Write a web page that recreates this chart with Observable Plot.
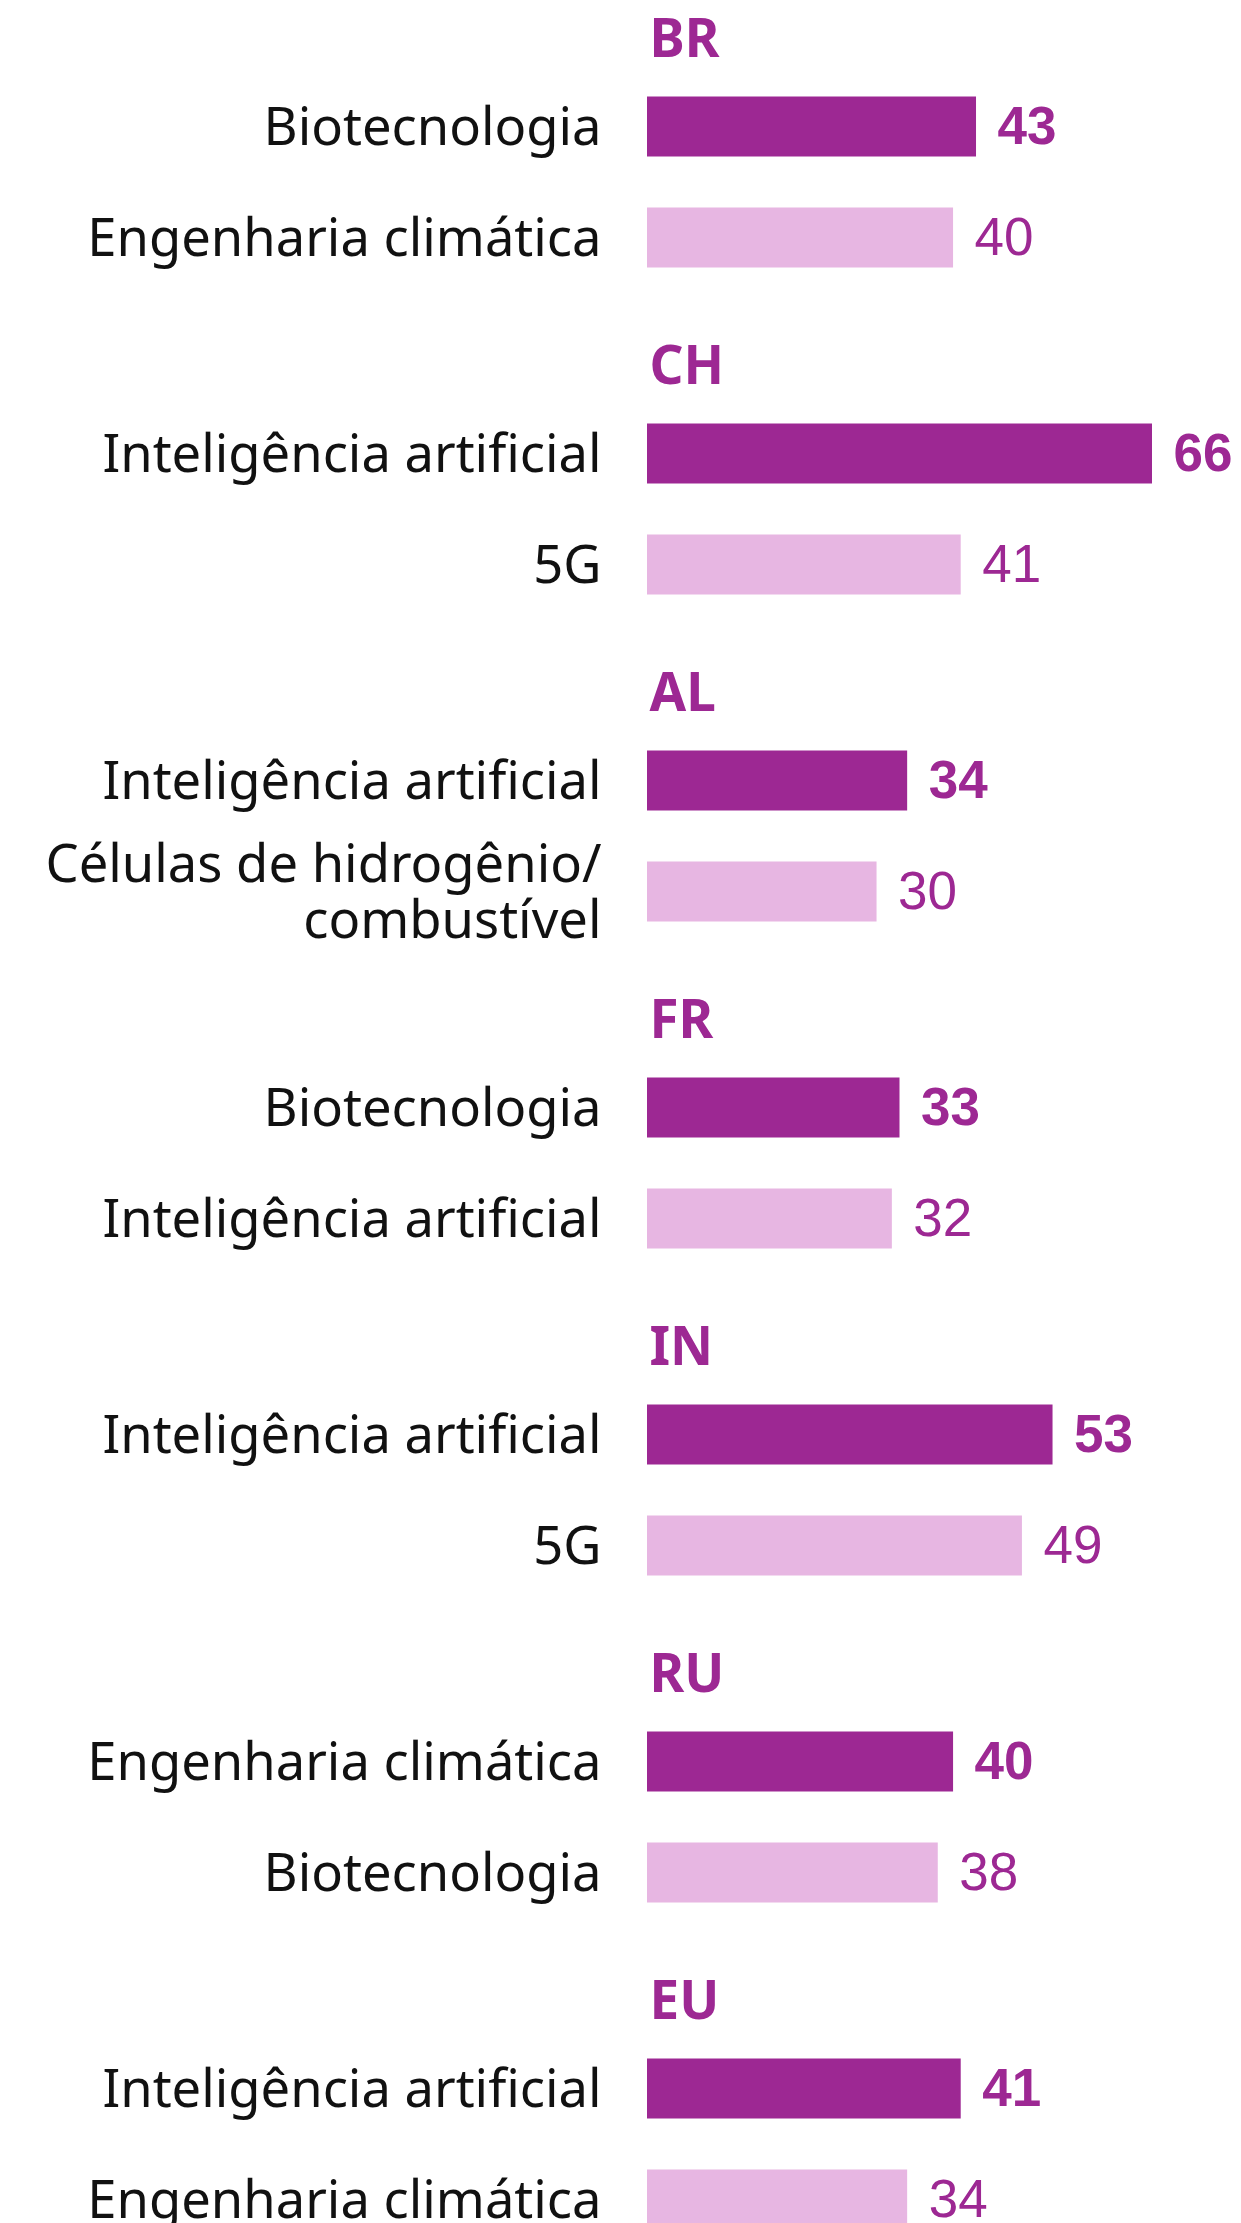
<!DOCTYPE html>
<html><head><meta charset="utf-8">
<script src="https://cdn.jsdelivr.net/npm/d3@7"></script>
<script src="https://cdn.jsdelivr.net/npm/@observablehq/plot@0.6"></script>
<style>
html,body{margin:0;padding:0;background:#fff;}
#wrap{width:1241px;height:2223px;overflow:hidden;}
</style>
</head><body><div id="wrap"></div>
<script>
const countries = ["BR","CH","AL","FR","IN","RU","EU"];
const tech1 = ["Biotecnologia","Inteligência artificial","Inteligência artificial","Biotecnologia","Inteligência artificial","Engenharia climática","Inteligência artificial"];
const value1 = [43,66,34,33,53,40,41];
const tech2 = ["Engenharia climática","5G","Células de hidrogênio/\ncombustível","Inteligência artificial","5G","Biotecnologia","Engenharia climática"];
const value2 = [40,41,30,32,49,38,34];

const dark = "#9d2893";
const light = "#e7b6e2";
const labelFont = "Noto Sans";
const valueFont = "Liberation Sans";

const rows = countries.flatMap((c, i) => [
  {country: c, rank: 1, tech: tech1[i], value: value1[i]},
  {country: c, rank: 2, tech: tech2[i], value: value2[i]}
]);

const plot = Plot.plot({
  width: 1241,
  height: 2312,
  marginTop: 16.5,
  marginBottom: 0,
  marginLeft: 647,
  marginRight: 89,
  x: {domain: [0, 66], axis: null},
  y: {type: "band", domain: [1, 2], paddingInner: 0.4554, paddingOuter: 0.6897, align: 0.4887, axis: null},
  fy: {domain: countries, padding: 0, axis: null},
  color: {type: "ordinal", domain: [1, 2], range: [dark, light]},
  style: {fontFamily: labelFont, background: "#fff", overflow: "visible"},
  marks: [
    Plot.barX(rows, {x: "value", y: "rank", fy: "country", fill: "rank"}),
    Plot.text(rows, {x: 0, y: "rank", fy: "country", text: "tech", textAnchor: "end", dx: -46,
      fontSize: 52.5, fill: "#111", lineHeight: 1.06, fontFamily: labelFont}),
    Plot.text(rows.filter(d => d.rank === 1), {x: "value", y: "rank", fy: "country", text: d => String(d.value),
      textAnchor: "start", dx: 21, fontSize: 53, fontWeight: "bold", fill: dark, fontFamily: valueFont}),
    Plot.text(rows.filter(d => d.rank === 2), {x: "value", y: "rank", fy: "country", text: d => String(d.value),
      textAnchor: "start", dx: 21, fontSize: 53, fontWeight: "normal", fill: dark, fontFamily: valueFont}),
    Plot.text(countries, {fy: d => d, text: d => d, frameAnchor: "top-left", dy: 20, dx: 2,
      textAnchor: "start", lineAnchor: "middle", fontSize: 53, fontWeight: "bold", fill: dark, fontFamily: labelFont})
  ]
});
document.getElementById("wrap").appendChild(plot);
</script>
</body></html>
